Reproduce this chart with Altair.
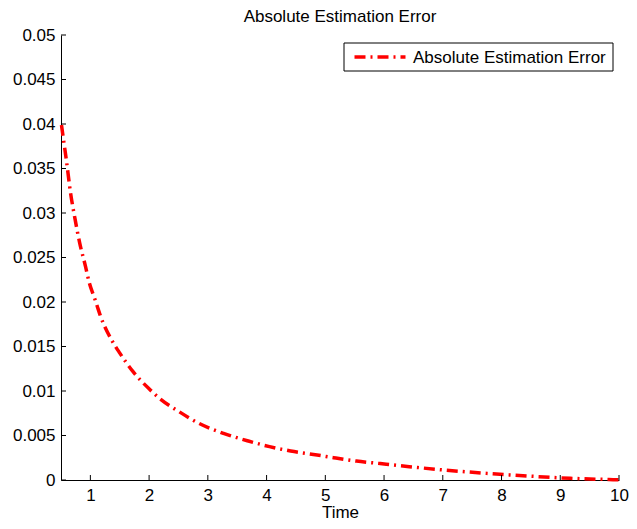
import altair as alt
import pandas as pd

# data
time = [0.508, 0.552, 0.592, 0.664, 0.737, 0.816, 0.917, 0.984, 1.073, 1.113,
        1.168, 1.365, 1.504, 1.727, 1.991, 2.176, 2.51, 2.847, 3.267, 3.69,
        4.05, 4.41, 4.86, 5.14, 5.53, 5.90, 6.43, 7.02, 7.74, 8.44, 9.17, 9.90, 10.0]
error = [0.0399, 0.0378, 0.0359, 0.0322, 0.0294, 0.0267, 0.0240, 0.0221, 0.0204, 0.0196,
         0.0185, 0.0157, 0.01423, 0.01217, 0.0103, 0.00918, 0.00768, 0.00637, 0.00524, 0.00438,
         0.00375, 0.00326, 0.00281, 0.00251, 0.00213, 0.00187, 0.0015, 0.00112, 0.00075, 0.00045, 0.00019, 0.00004, 0.00002]
series_name = "Absolute Estimation Error"
x_ticks = [1, 2, 3, 4, 5, 6, 7, 8, 9, 10]
y_ticks = [0, 0.005, 0.01, 0.015, 0.02, 0.025, 0.03, 0.035, 0.04, 0.045, 0.05]

FONT = "Liberation Sans"
W, H = 558, 445
DASH = [11, 5, 2, 5]
RED = "#ff0000"

df = pd.DataFrame({"t": time, "err": error})
xt = pd.DataFrame({"v": x_ticks})
yt = pd.DataFrame({"v": y_ticks})
leg = alt.Data(values=[{"label": series_name}])

xscale = alt.Scale(domain=[0.5, 10], nice=False, zero=False)
yscale = alt.Scale(domain=[0, 0.05], nice=False)

line = alt.Chart(df).mark_line(color=RED, strokeWidth=3.5, strokeDash=DASH,
                               interpolate="monotone").encode(
    x=alt.X("t:Q", scale=xscale,
            axis=alt.Axis(values=x_ticks, title="Time", ticks=False, grid=False,
                          labelFlush=False, labelPadding=7, titlePadding=1.5,
                          domainColor="black", labelColor="black",
                          titleColor="black", format="d")),
    y=alt.Y("err:Q", scale=yscale,
            axis=alt.Axis(values=y_ticks, title=None, ticks=False, grid=False,
                          labelFlush=False, labelPadding=6, format="~g",
                          domainColor="black", labelColor="black")),
)

xticks = alt.Chart(xt).mark_rule(color="black", strokeWidth=1).encode(
    x=alt.X("v:Q", scale=xscale), y=alt.value(H), y2=alt.value(H - 5))
yticks = alt.Chart(yt).mark_rule(color="black", strokeWidth=1).encode(
    y=alt.Y("v:Q", scale=yscale), x=alt.value(0), x2=alt.value(5))

# legend box
leg_box = alt.Chart(leg).mark_rect(fill="white", stroke="black", strokeWidth=1).encode(
    x=alt.value(283), x2=alt.value(552), y=alt.value(8), y2=alt.value(36))
leg_line = alt.Chart(leg).mark_rule(color=RED, strokeWidth=3.5, strokeDash=DASH).encode(
    x=alt.value(293.5), x2=alt.value(344.5), y=alt.value(22))
leg_text = alt.Chart(leg).mark_text(align="left", baseline="middle", font=FONT,
                                    fontSize=17, color="black").encode(
    x=alt.value(352), y=alt.value(22.5), text="label:N")

chart = alt.layer(line, xticks, yticks, leg_box, leg_line, leg_text).properties(
    width=W, height=H,
    title=alt.TitleParams("Absolute Estimation Error", font=FONT, fontSize=17,
                          fontWeight="normal", color="black", offset=0, frame="group"),
    autosize=alt.AutoSizeParams(type="none"),
    padding={"left": 53, "top": 27, "right": 10, "bottom": 41},
).configure_view(stroke=None).configure_axis(
    labelFont=FONT, labelFontSize=17, titleFont=FONT, titleFontSize=17,
    titleFontWeight="normal"
)

chart.save("out.html", embed_options={"renderer": "svg", "actions": False})
